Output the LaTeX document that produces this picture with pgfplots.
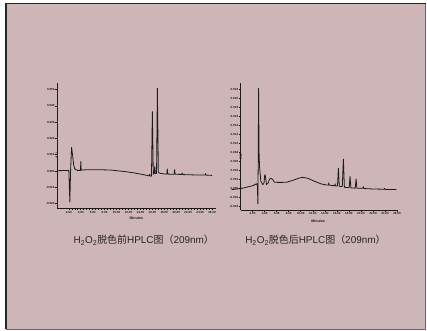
\documentclass[border=0pt]{standalone}
\usepackage{fontspec}
\setmainfont{Liberation Sans}
\newfontfamily\cjk{Noto Sans CJK SC}
\usepackage{pgfplots}
\pgfplotsset{compat=1.18}
\definecolor{slidepink}{RGB}{205,181,184}
\definecolor{trace}{RGB}{28,26,27}
\definecolor{capcol}{RGB}{40,36,38}
\pgfplotsset{
  hplc/.style={
    scale only axis,
    axis x line=bottom, axis y line=left,
    axis line style={-, trace, line width=0.8bp},
    every outer x axis line/.append style={-},
    every outer y axis line/.append style={-},
    clip=false,
    tick align=outside,
    major tick length=1.8bp, minor tick length=1.1bp,
    every tick/.style={trace, line width=0.6bp},
    minor x tick num=3,
    xtick={2,4,...,26},
    xticklabels={2.00,4.00,6.00,8.00,10.00,12.00,14.00,16.00,18.00,20.00,22.00,24.00,26.00},
    tick label style={font=\fontsize{3}{3.5}\selectfont\bfseries, text=trace, inner sep=0.4bp},
    xlabel={Minutes},
    ylabel={AU},
    label style={font=\fontsize{3.6}{4}\selectfont\bfseries, text=trace, inner sep=0pt},
    xmin=0,
  }
}
\begin{document}
\begin{tikzpicture}[x=1bp,y=1bp]
\fill[white] (0,0) rectangle (427,330);
\fill[slidepink] (6,0) rectangle (427,326.25);
\draw[black!85, line width=2bp] (6,0) -- (6,326.25);
\draw[black!85, line width=1.5bp] (5,326.25) -- (427,326.25);
\draw[black!60, line width=0.8bp] (426.6,0) -- (426.6,326.25);
\draw[black!60, line width=0.8bp] (6,0.4) -- (427,0.4);

% left chromatogram
\begin{axis}[hplc,
  at={(57bp,121bp)}, anchor=south west,
  width=159bp, height=126.3bp,
  xmax=26.6, ymin=-2.31, ymax=5.43,
  ytick={-2,-1,0,1,2,3,4,5},
  yticklabels={-0.020,-0.010,0.000,0.010,0.020,0.030,0.040,0.050},
  xlabel style={at={(axis description cs:0.5,0)}, anchor=center, yshift=-10bp},
  ylabel style={at={(axis description cs:0,0.493)}, anchor=center, xshift=-9.5bp},
]
\addplot[trace, line width=0.8bp, line join=round, no marks] coordinates {
(0.2,0.02) (1.5,0.03) (2.0,0.03) (2.17,-1.9) (2.3,0.1) (2.46,1.45) (2.6,1.05)
(2.8,0.4) (3.0,0.12) (3.4,0.04) (3.95,0.04) (4.01,0.59) (4.07,0.05) (5,0.08)
(7,0.08) (9,0.06) (10,0.02) (11.5,-0.04) (13,-0.12) (14,-0.19) (15,-0.26)
(15.4,-0.3) (15.55,-0.2) (15.65,-0.32) (15.85,-0.3) (16.0,3.65) (16.15,-0.2)
(16.3,-0.15) (16.4,0.28) (16.5,-0.15) (16.7,-0.15) (16.84,5.08) (17.0,-0.1)
(17.4,-0.15) (18.0,-0.18) (18.42,-0.18) (18.5,0.12) (18.58,-0.19) (19.65,-0.2)
(19.73,0.08) (19.81,-0.2) (20.9,-0.21) (21.0,-0.12) (21.1,-0.22) (23,-0.24)
(24.85,-0.25) (24.9,-0.16) (24.95,-0.25) (26.0,-0.27)
};
\end{axis}

% right chromatogram
\begin{axis}[hplc,
  at={(241bp,119.3bp)}, anchor=south west,
  width=157bp, height=128bp,
  xmax=26.04, ymin=-2.44, ymax=11.74,
  ytick={-2,-1,...,11},
  yticklabels={-0.004,-0.002,0.000,0.002,0.004,0.006,0.008,0.010,0.012,0.014,0.016,0.018,0.020,0.022},
  xlabel style={at={(axis description cs:0.495,0)}, anchor=center, yshift=-11bp},
  ylabel style={at={(axis description cs:0,0.5)}, anchor=center, xshift=-10bp},
]
\addplot[trace, line width=0.8bp, line join=round, no marks] coordinates {
(-1.5,-0.14) (0,-0.03) (1,0.12) (2.04,0.3) (2.7,0.52) (2.8,0.3) (2.87,-1.73)
(2.93,3) (2.99,11.1) (3.07,4.0) (3.15,2.37) (3.37,0.78) (3.7,0.41) (3.9,0.6)
(4.02,1.52) (4.12,1.4) (4.31,0.41) (4.59,0.6) (4.8,1.0) (4.98,1.11) (5.2,1.05)
(5.36,0.96) (5.64,0.67) (6.5,0.66) (7.6,0.67) (8.7,0.89) (9.8,1.15) (10.3,1.22)
(11.2,1.11) (12.3,0.78) (13.4,0.49) (14.2,0.38) (14.6,0.38) (14.65,0.62)
(14.7,0.37) (15.3,0.3) (15.65,0.3) (15.7,0.52) (15.75,0.28) (16.1,0.25)
(16.25,2.22) (16.4,0.25) (16.5,0.22) (16.9,0.2) (17.08,3.25) (17.25,0.12)
(17.36,0.11) (18.05,0.08) (18.19,1.33) (18.33,0.06) (18.46,0.04) (19.05,0.02)
(19.19,1.04) (19.33,0.0) (19.46,0.0) (20.3,0.0) (20.4,0.19) (20.5,-0.02)
(21.9,-0.07) (23.85,-0.1) (23.9,0.0) (23.95,-0.11) (25.9,-0.14)
};
\end{axis}

\node[text=capcol, font=\fontsize{10}{12}\selectfont] at (144,89.3)
  {H\textsubscript{2}O\textsubscript{2}{\cjk 脱色前}HPLC{\cjk 图（}209nm{\cjk ）}};
\node[text=capcol, font=\fontsize{10}{12}\selectfont] at (316,89.3)
  {H\textsubscript{2}O\textsubscript{2}{\cjk 脱色后}HPLC{\cjk 图（}209nm{\cjk ）}};
\end{tikzpicture}
\end{document}
